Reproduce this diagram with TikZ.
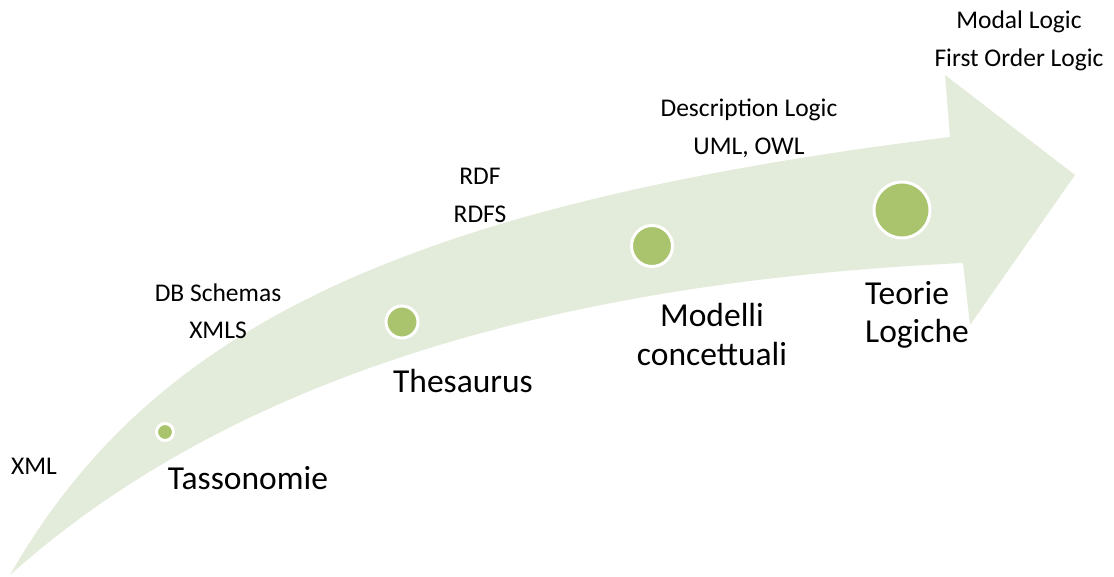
\documentclass[tikz,border=0pt]{standalone}
\usepackage{fontspec}
\setmainfont{Carlito}
\usetikzlibrary{shapes,calc}
\definecolor{arrowgreen}{HTML}{E3EBDA}
\definecolor{dotgreen}{HTML}{A9C46C}
\tikzstyle{stagedot} = [circle, draw=white, line width=3pt, fill=dotgreen, inner sep=0pt]
\tikzstyle{stage} = [anchor=base, inner sep=0pt, font=\fontsize{33.5}{38.5}\selectfont]
\tikzstyle{tech} = [anchor=base, inner sep=0pt, align=center, font=\fontsize{25.5}{38}\selectfont]

\begin{document}
\begin{tikzpicture}[x=1pt, y=-1pt]
        \useasboundingbox (0,0) rectangle (1114,577);
        % curved arrow
        \fill[arrowgreen] (10,575) .. controls (150,330) and (400,205) .. (950,137)
            -- (945,75) -- (1075,175) -- (970,325) -- (963,263)
            .. controls (600,280) and (250,360) .. cycle;
        % stages
        \node[stagedot, minimum size=17pt] (taxdot) at (165,432) {};
        \node[stagedot, minimum size=32pt] (thesdot) at (402,322) {};
        \node[stagedot, minimum size=41pt] (modeldot) at (652,246) {};
        \node[stagedot, minimum size=56pt] (logicdot) at (902,210) {};
        \node[stage] (tax) at (248,489) {Tassonomie};
        \node[stage] (thes) at (463,392) {Thesaurus};
        \node[stage, align=center] (model) at (712,365) {Modelli\\concettuali};
        \node[stage, align=left, anchor=base west] (logic) at (865,343) {Teorie\\Logiche};
        % languages
        \node[tech] (xml) at (34,474) {XML};
        \node[tech] (dbs) at (218,339) {DB Schemas\\XMLS};
        \node[tech] (rdf) at (480,223) {RDF\\RDFS};
        \node[tech] (desc) at (749,155) {Description Logic\\UML, OWL};
        \node[tech] (modal) at (1019,67) {Modal Logic\\First Order Logic};
    \end{tikzpicture}
\end{document}
